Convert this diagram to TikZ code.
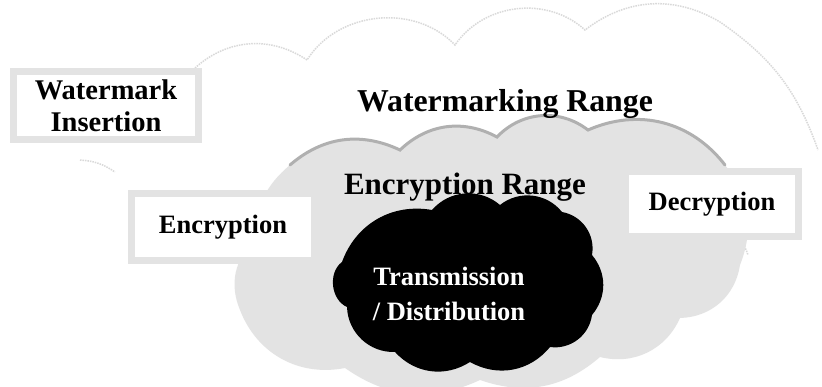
\documentclass[tikz,border=0pt]{standalone}
\usepackage{fontspec}
\setmainfont{Liberation Serif}
\begin{document}
\begin{tikzpicture}[x=1pt,y=1pt,
  outeredge/.style={draw=gray!30,line width=1.5pt,densely dotted},
  innercloud/.style={fill=gray!22},
  inneredge/.style={draw=gray!62,line width=3pt,line cap=round},
  blackcloud/.style={fill=black},
  stagebox/.style={fill=white,draw=gray!22,line width=7pt,inner sep=0pt,align=center,
    font=\bfseries\fontsize{26.5}{32}\selectfont},
  rangelabel/.style={inner sep=0pt,anchor=base},
  cloudlabel/.style={text=white,align=center,inner sep=0pt,font=\bfseries\fontsize{26.5}{35}\selectfont}]
\useasboundingbox (0,0) rectangle (822,-387);
\fill[white] (0,0) rectangle (822,-387);

% outer cloud: watermarking range (only its faint outline shows)
\draw[outeredge] (195,-68) to[bend left=38] (307,-60)
  to[bend left=52] (455,-45)
  to[bend left=49] (585,-30)
  to[bend left=34] (720,-22)
  to[bend left=18] (818,-150);
\draw[outeredge] (740,-240) to[bend left=10] (748,-255);
\draw[outeredge] (80,-160) to[bend left=15] (115,-172);

% inner cloud: encryption range
\path[innercloud] (290,-165) to[bend left=33] (400,-150)
  to[bend left=36] (497,-137)
  to[bend left=42] (588,-130)
  to[bend left=38] (725,-165)
  to[bend left=30] (740,-265)
  to[bend left=40] (680,-318)
  to[bend left=40] (600,-357)
  to[bend left=30] (480,-380)
  to[bend left=30] (345,-368)
  to[bend left=40] (240,-310)
  to[bend left=35] (255,-240)
  to[bend left=25] (290,-165) -- cycle;
\draw[inneredge] (290,-165) to[bend left=33] (400,-150)
  to[bend left=36] (497,-137)
  to[bend left=42] (588,-130)
  to[bend left=38] (725,-165);

\node[rangelabel,font=\bfseries\fontsize{31.8}{36}\selectfont] (wrange) at (505,-112) {Watermarking Range};

% stage boxes
\node[stagebox,minimum width=185pt,minimum height=68pt,font=\bfseries\fontsize{28.5}{32}\selectfont] (wins) at (106,-105.5) {Watermark\\Insertion};
\node[stagebox,minimum width=183pt,minimum height=67pt] (enc) at (223,-227) {Encryption};
\node[stagebox,minimum width=173pt,minimum height=65pt] (dec) at (712,-204) {Decryption};

% black cloud: transmission / distribution
\path[blackcloud] (342,-262) to[bend left=40] (432,-210)
  to[bend left=45] (500,-205)
  to[bend left=45] (562,-212)
  to[bend left=45] (592,-255)
  to[bend left=40] (592,-315)
  to[bend left=45] (550,-347)
  to[bend left=40] (470,-362)
  to[bend left=40] (395,-352)
  to[bend left=45] (347,-307)
  to[bend left=60] (342,-262) -- cycle;

\node[rangelabel,font=\bfseries\fontsize{31}{36}\selectfont] (erange) at (465,-195) {Encryption Range};
\node[cloudlabel] (trans) at (449,-294) {Transmission\\/ Distribution};
\end{tikzpicture}
\end{document}
